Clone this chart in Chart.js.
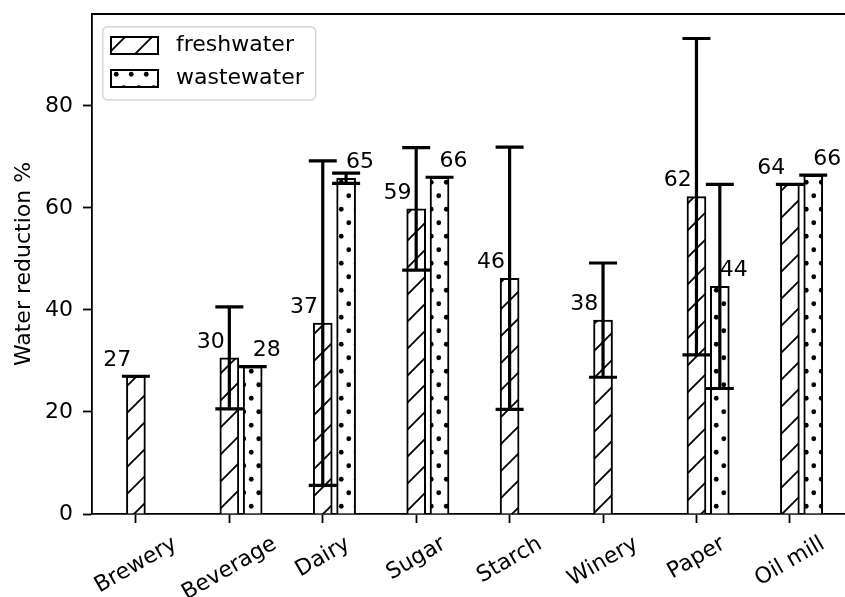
<!DOCTYPE html>
<html>
<head>
<meta charset="utf-8">
<script src="https://cdn.jsdelivr.net/npm/chart.js@4.4.1/dist/chart.umd.min.js"></script>
<style>
  html, body { margin: 0; padding: 0; background: #fff; }
  canvas { display: block; }
</style>
</head>
<body>
<canvas id="chart" width="845" height="597"></canvas>
<script>
// DATA
const categories = ["Brewery", "Beverage", "Dairy", "Sugar", "Starch", "Winery", "Paper", "Oil mill"];
const freshwater = [27.0, 30.6, 37.4, 59.8, 46.2, 38.0, 62.2, 64.6];
const freshwaterErr = [0, 10.0, 31.8, 12.0, 25.7, 11.2, 31.0, 0];
const wastewater = [null, 28.9, 65.8, 66.0, null, null, 44.6, 66.4];
const wastewaterErr = [null, 0, 1.0, 0, null, null, 20.0, 0];
const yTicks = [0, 20, 40, 60, 80];

const wasteOffset = 0.25;
const FONT = "DejaVu Sans";
const FS = 22;

Chart.defaults.font.family = FONT;
Chart.defaults.font.size = FS;
Chart.defaults.color = "#000";

// HATCH PATTERNS
function hatchPattern() {
  const s = 27;
  const c = document.createElement("canvas");
  c.width = s; c.height = s;
  const g = c.getContext("2d");
  g.fillStyle = "#fff";
  g.fillRect(0, 0, s, s);
  g.strokeStyle = "#000";
  g.lineWidth = 1.9;
  g.beginPath();
  g.moveTo(0, s); g.lineTo(s, 0);
  g.moveTo(-s / 2, s / 2); g.lineTo(s / 2, -s / 2);
  g.moveTo(s / 2, s * 1.5); g.lineTo(s * 1.5, s / 2);
  g.stroke();
  return g.createPattern(c, "repeat");
}

function dotPattern() {
  const w = 15, h = 27;
  const c = document.createElement("canvas");
  c.width = w; c.height = h;
  const g = c.getContext("2d");
  g.fillStyle = "#fff";
  g.fillRect(0, 0, w, h);
  g.fillStyle = "#000";
  [[3.75, 6.75], [11.25, 20.25]].forEach(([x, y]) => {
    g.beginPath();
    g.arc(x, y, 2.4, 0, Math.PI * 2);
    g.fill();
  });
  return g.createPattern(c, "repeat");
}

const ctx = document.getElementById("chart").getContext("2d");
const freshFill = hatchPattern();
const wasteFill = dotPattern();

// legend placement and its frame
const legendFrame = {
  id: "legendFrame",
  afterLayout(chart) {
    const l = chart.legend;
    const a = chart.chartArea;
    l.left = a.left + 8; l.right = a.right + 8;
    l.top = a.top + 9.5; l.bottom = a.bottom + 9.5;
  },
  beforeDraw(chart) {
    const l = chart.legend;
    const a = chart.chartArea;
    const c = chart.ctx;
    let maxW = 0;
    l.legendHitBoxes.forEach((h) => { maxW = Math.max(maxW, h.width); });
    const x0 = a.left + 10.7, y0 = a.top + 12.7;
    const x1 = a.left + 19 + maxW + 12, y1 = a.top + 86;
    c.save();
    c.beginPath();
    c.roundRect(x0, y0, x1 - x0, y1 - y0, 5);
    c.fillStyle = "rgba(255,255,255,0.8)";
    c.fill();
    c.strokeStyle = "#d6d6d6";
    c.lineWidth = 1.5;
    c.stroke();
    c.restore();
  }
};

// error bars and value labels
const errorBars = {
  id: "errorBars",
  afterDatasetsDraw(chart) {
    const c = chart.ctx;
    const xs = chart.scales.x, ys = chart.scales.y;
    const sets = [
      { vals: freshwater, errs: freshwaterErr, dx: 0, lx: -0.35 },
      { vals: wastewater, errs: wastewaterErr, dx: wasteOffset, lx: wasteOffset }
    ];
    c.save();
    c.strokeStyle = "#000";
    c.lineWidth = 3.2;
    sets.forEach((s) => {
      s.vals.forEach((v, i) => {
        if (v == null) return;
        const x = xs.getPixelForValue(i + s.dx);
        const top = ys.getPixelForValue(v + s.errs[i]);
        const bot = ys.getPixelForValue(v - s.errs[i]);
        c.beginPath();
        c.moveTo(x, top); c.lineTo(x, bot);
        c.moveTo(x - 14, top); c.lineTo(x + 14, top);
        c.moveTo(x - 14, bot); c.lineTo(x + 14, bot);
        c.stroke();
      });
    });
    c.fillStyle = "#000";
    c.font = FS + "px '" + FONT + "'";
    c.textAlign = "left";
    c.textBaseline = "alphabetic";
    sets.forEach((s) => {
      s.vals.forEach((v, i) => {
        if (v == null) return;
        c.fillText(String(Math.trunc(v)), xs.getPixelForValue(i + s.lx), ys.getPixelForValue(v + 2));
      });
    });
    c.restore();
  }
};

// top spine and rotated category labels
const axisExtras = {
  id: "axisExtras",
  afterDraw(chart) {
    const c = chart.ctx;
    const a = chart.chartArea;
    const xs = chart.scales.x;
    c.save();
    c.strokeStyle = "#000";
    c.lineWidth = 1.8;
    c.beginPath();
    c.moveTo(a.left - 0.9, a.top);
    c.lineTo(a.right, a.top);
    c.stroke();

    c.fillStyle = "#000";
    c.font = FS + "px '" + FONT + "'";
    c.textAlign = "center";
    c.textBaseline = "middle";
    const ang = Math.PI / 6;
    const labelTop = a.bottom + 19;
    categories.forEach((name, i) => {
      const w = c.measureText(name).width;
      const half = (w * Math.sin(ang) + FS * Math.cos(ang)) / 2;
      c.save();
      c.translate(xs.getPixelForValue(i), labelTop + half);
      c.rotate(-ang);
      c.fillText(name, 0, 0);
      c.restore();
    });
    c.restore();
  }
};

new Chart(ctx, {
  type: "bar",
  data: {
    datasets: [
      {
        label: "freshwater",
        data: categories.map((c, i) => ({ x: i, y: freshwater[i] })),
        backgroundColor: freshFill,
        borderColor: "#000",
        borderWidth: 2,
        barThickness: 19,
        grouped: false,
      },
      {
        label: "wastewater",
        data: categories.map((c, i) => ({ x: i + wasteOffset, y: wastewater[i] })),
        backgroundColor: wasteFill,
        borderColor: "#000",
        borderWidth: 2,
        barThickness: 19,
        grouped: false,
      },
    ],
  },
  options: {
    responsive: false,
    animation: false,
    layout: { padding: { top: 14, left: 0, right: 0, bottom: 0 } },
    plugins: {
      tooltip: { enabled: false },
      legend: {
        position: "chartArea",
        align: "start",
        labels: {
          boxWidth: 47,
          boxHeight: 17,
          padding: 11,
          color: "#000",
          font: { size: FS, family: FONT },
          generateLabels(chart) {
            return Chart.defaults.plugins.legend.labels.generateLabels(chart).map((it) => {
              it.text = " " + it.text;
              return it;
            });
          },
        },
      },
    },
    scales: {
      x: {
        type: "linear",
        offset: false,
        min: -0.47,
        max: 7.59,
        afterBuildTicks(scale) {
          scale.ticks = categories.map((c, i) => ({ value: i }));
        },
        afterFit(scale) {
          scale.height = 83;
          scale.paddingLeft = 0; scale.paddingRight = 0;
        },
        ticks: { display: false },
        grid: {
          display: true,
          offset: false,
          drawOnChartArea: false,
          drawTicks: true,
          tickLength: 9,
          tickWidth: 1.8,
          tickColor: "#000",
        },
        border: { display: true, color: "#000", width: 1.8 },
      },
      y: {
        min: 0,
        max: 98,
        afterBuildTicks(scale) {
          scale.ticks = yTicks.map((v) => ({ value: v }));
        },
        afterFit(scale) {
          scale.width = 92;
          scale.paddingTop = 0; scale.paddingBottom = 0;
        },
        ticks: { padding: 10, color: "#000", font: { size: FS, family: FONT } },
        grid: {
          display: true,
          drawOnChartArea: false,
          drawTicks: true,
          tickLength: 9,
          tickWidth: 1.8,
          tickColor: "#000",
        },
        border: { display: true, color: "#000", width: 1.8 },
        title: {
          display: true,
          text: "Water reduction %",
          color: "#000",
          font: { size: FS, family: FONT, lineHeight: 1.2 },
          padding: { top: 11, bottom: 0 },
        },
      },
    },
  },
  plugins: [legendFrame, errorBars, axisExtras],
});
</script>
</body>
</html>
